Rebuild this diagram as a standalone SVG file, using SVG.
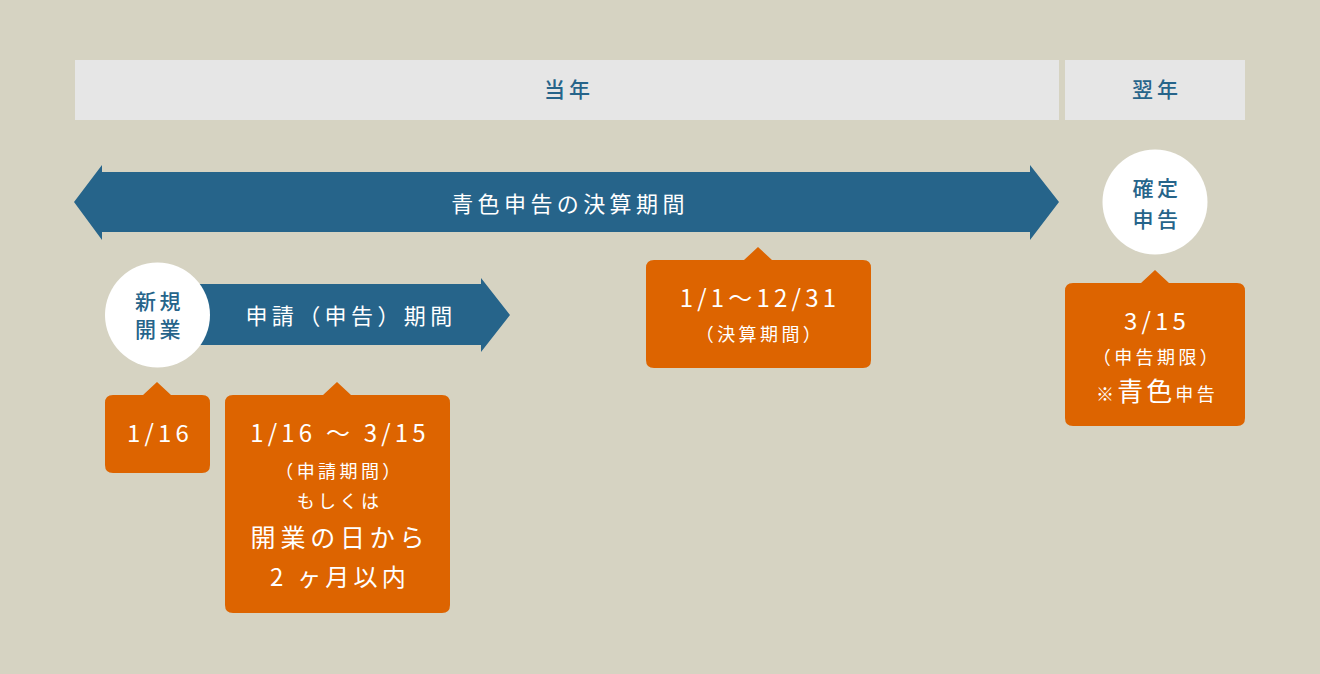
<svg xmlns="http://www.w3.org/2000/svg" width="1320" height="674" viewBox="0 0 1320 674">
<defs>
<style>
text{font-family:"Noto Sans CJK JP","Noto Sans",sans-serif;text-anchor:middle}
.hdr{fill:#e6e6e6}
.blue{fill:#26648a}
.org{fill:#dd6400}
.circ{fill:#ffffff}
.th{fill:#26648a;font-size:21px;font-weight:500;letter-spacing:4px}
.tw{fill:#ffffff;font-size:22px;font-weight:400;letter-spacing:4.4px}
.big{fill:#ffffff;font-size:24px;font-weight:400;letter-spacing:4.2px}
.sm{fill:#ffffff;font-size:18px;font-weight:400;letter-spacing:3.4px}
.tc{fill:#26648a;font-size:21px;font-weight:500;letter-spacing:3.5px}
</style>
</defs>
<rect x="0" y="0" width="1320" height="674" fill="#d6d3c2"/>
<g id="header-current">
<rect class="hdr" x="75" y="60" width="984" height="60"/>
<text class="th" x="569" y="97">当年</text>
</g>
<g id="header-next">
<rect class="hdr" x="1065" y="60" width="180" height="60"/>
<text class="th" x="1157" y="97">翌年</text>
</g>
<g id="connectors">
<g id="arrow-settlement">
<polygon class="blue" points="74,202 102,165 102,172 1030,172 1030,165 1059,202 1030,240 1030,232 102,232 102,240"/>
<text class="tw" x="570" y="212">青色申告の決算期間</text>
</g>
<g id="arrow-application">
<polygon class="blue" points="190,284 481,284 481,278 510,315 481,352 481,345 190,345"/>
<text class="tw" x="351" y="324">申請（申告）期間</text>
</g>
</g>
<g id="node-start">
<circle class="circ" cx="157.5" cy="315" r="52.5"/>
<text class="tc" x="159.5" y="308.5">新規</text>
<text class="tc" x="159.5" y="336.5">開業</text>
</g>
<g id="node-final">
<circle class="circ" cx="1155" cy="202" r="52.5"/>
<text class="tc" x="1157" y="195.5">確定</text>
<text class="tc" x="1157" y="226.5">申告</text>
</g>
<g id="callout-1-16">
<path class="org" d="M113,395 H143 L157,382 L171,395 H202 Q210,395 210,403 V465 Q210,473 202,473 H113 Q105,473 105,465 V403 Q105,395 113,395 Z"/>
<text class="big" x="160" y="442">1/16</text>
</g>
<g id="callout-application">
<path class="org" d="M233,395 H323 L337,382 L351,395 H442 Q450,395 450,403 V605 Q450,613 442,613 H233 Q225,613 225,605 V403 Q225,395 233,395 Z"/>
<text class="big" x="340" y="442">1/16 ～ 3/15</text>
<text class="sm" x="339.5" y="477.5">（申請期間）</text>
<text class="sm" x="339.5" y="508">もしくは</text>
<text class="big" x="340" y="547" style="font-size:25px;letter-spacing:4.8px">開業の日から</text>
<text class="big" x="340" y="586">2 ヶ月以内</text>
</g>
<g id="callout-settlement">
<path class="org" d="M654,260 H744 L758,247 L772,260 H863 Q871,260 871,268 V360 Q871,368 863,368 H654 Q646,368 646,360 V268 Q646,260 654,260 Z"/>
<text class="big" x="760" y="307">1/1～12/31</text>
<text class="sm" x="760" y="341">（決算期間）</text>
</g>
<g id="callout-deadline">
<path class="org" d="M1073,283 H1141 L1155,270 L1169,283 H1237 Q1245,283 1245,291 V418 Q1245,426 1237,426 H1073 Q1065,426 1065,418 V291 Q1065,283 1073,283 Z"/>
<text class="big" x="1157" y="330">3/15</text>
<text class="sm" x="1157" y="364">（申告期限）</text>
<text x="1157" y="401" class="sm"><tspan>※</tspan><tspan style="font-size:26px;letter-spacing:3px">青色</tspan><tspan>申告</tspan></text>
</g>
</svg>
